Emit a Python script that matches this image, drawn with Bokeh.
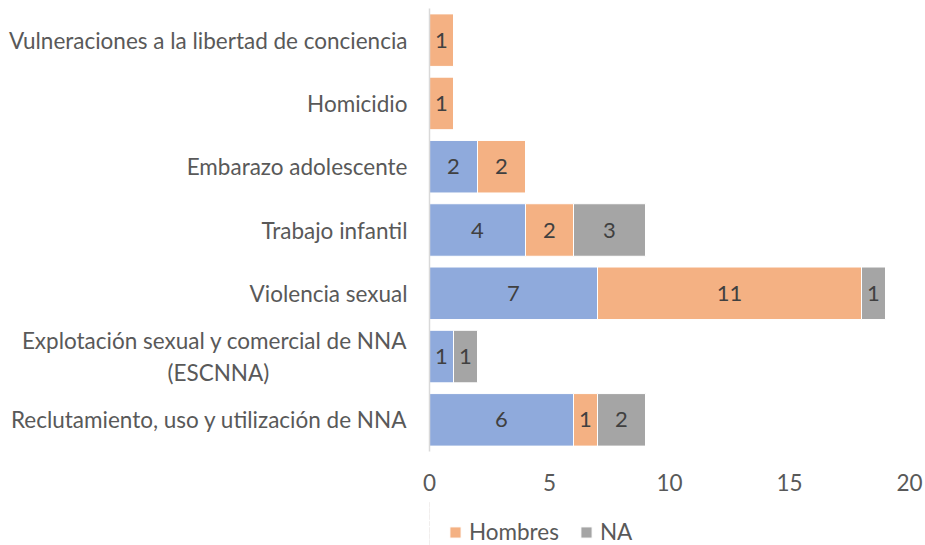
from bokeh.plotting import figure
from bokeh.layouts import column
from bokeh.models import FactorRange, Legend, LegendItem, ColumnDataSource
from bokeh.core.properties import value
from bokeh.embed import file_html
from bokeh.resources import INLINE

NBSP = "\u00a0"
categories = [
    "Reclutamiento, uso y utilización de NNA",
    "Explotación sexual y comercial de NNA\n(ESCNNA)" + NBSP * 24,
    "Violencia sexual",
    "Trabajo infantil",
    "Embarazo adolescente",
    "Homicidio",
    "Vulneraciones a la libertad de conciencia",
]
mujeres = [6, 1, 7, 4, 2, 0, 0]
hombres = [1, 0, 11, 2, 2, 1, 1]
na = [2, 1, 1, 3, 0, 0, 0]
series = ["Mujeres", "Hombres", "NA"]
colors = ["#8FAADC", "#F4B183", "#A5A5A5"]
x_ticks = [0, 5, 10, 15, 20]

FONT = "Lato"
FS = "22.5px"

src = ColumnDataSource(dict(cat=categories, Mujeres=mujeres, Hombres=hombres, NA=na))

p = figure(
    width=925, height=501,
    y_range=FactorRange(factors=categories, range_padding=0, factor_padding=0),
    x_range=(0, 20),
    output_backend="svg", toolbar_location=None,
    min_border_left=429, min_border_right=16, min_border_top=8, min_border_bottom=50,
)
p.outline_line_color = None
p.xgrid.grid_line_color = None
p.ygrid.grid_line_color = None

rs = p.hbar_stack(series, y="cat", height=0.83, color=colors, source=src,
                  line_color="white", line_width=1)

# data labels
lx, ly, lt = [], [], []
vals = [mujeres, hombres, na]
for i, c in enumerate(categories):
    left = 0
    for s in vals:
        v = s[i]
        if v:
            lx.append(left + v / 2)
            ly.append(c)
            lt.append(str(v))
        left += v
p.text(x=lx, y=ly, text=lt, text_align="center", text_baseline="middle",
       text_font=value(FONT), text_font_size="22px", text_color="#404040")

p.xaxis.ticker = x_ticks
p.xaxis.axis_line_color = None
p.xaxis.major_tick_line_color = None
p.xaxis.minor_tick_line_color = None
p.xaxis.major_label_text_font = FONT
p.xaxis.major_label_text_font_size = FS
p.xaxis.major_label_text_color = "#595959"
p.xaxis.major_label_standoff = 16

p.yaxis.axis_line_color = "#D9D9D9"
p.yaxis.axis_line_width = 1.5
p.yaxis.major_tick_line_color = None
p.yaxis.minor_tick_line_color = None
p.yaxis.major_label_text_font = FONT
p.yaxis.major_label_text_font_size = FS
p.yaxis.major_label_text_color = "#595959"
p.yaxis.major_label_standoff = 16

# legend strip below the chart (its stacked bars fall outside its x range, only the legend shows)
p2 = figure(width=925, height=44, output_backend="svg", toolbar_location=None,
            x_axis_location=None, y_axis_location=None,
            y_range=FactorRange(factors=categories), x_range=(100, 120),
            min_border_left=0, min_border_right=0, min_border_top=0, min_border_bottom=0)
p2.outline_line_color = None
p2.xgrid.grid_line_color = None
p2.ygrid.grid_line_color = None
swatches = p2.hbar_stack(series, y="cat", height=0.83, color=colors, source=src,
                         line_color="white", line_width=1)

legend = Legend(
    items=[LegendItem(label=s, renderers=[r]) for s, r in zip(series, swatches)],
    orientation="horizontal", location=(-102, 0),
    label_text_font=FONT, label_text_font_size=FS, label_text_color="#595959",
    glyph_width=14, glyph_height=14, spacing=20, label_standoff=7,
    border_line_color=None, background_fill_alpha=0, padding=0, margin=0,
)
p2.add_layout(legend, "center")

open("out.html", "w").write(file_html(column(p, p2), INLINE))
